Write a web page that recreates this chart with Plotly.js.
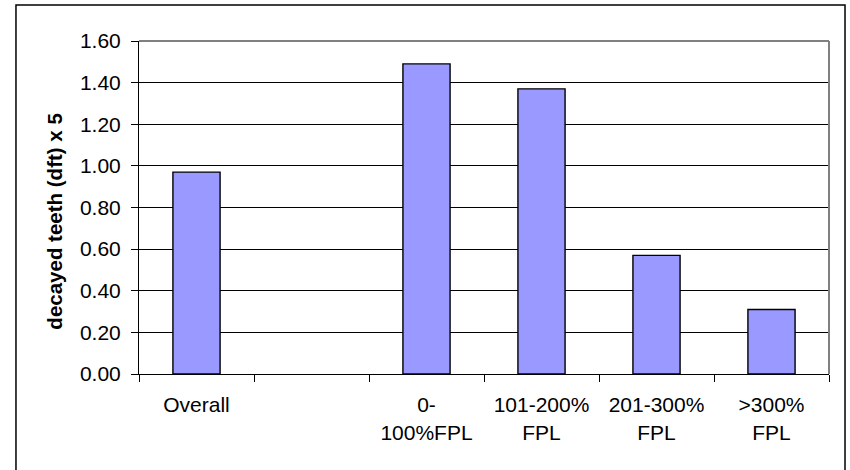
<!DOCTYPE html>
<html>
<head>
<meta charset="utf-8">
<script src="https://cdn.plot.ly/plotly-3.0.1.min.js"></script>
<style>html,body{margin:0;padding:0;background:#fff;}</style>
</head>
<body>
<div id="chart" style="width:850px;height:470px;"></div>
<script>
// Data
const categories = ["Overall", " ", "0-<br>100%FPL", "101-200%<br>FPL", "201-300%<br>FPL", ">300%<br>FPL"];
const values = [0.97, null, 1.49, 1.37, 0.57, 0.31];
const yTitle = "decayed teeth (dft) x 5";

const FONT = "Liberation Sans, Arial, sans-serif";

const trace = {
  type: "bar",
  x: categories,
  y: values,
  marker: { color: "#9999FF", line: { color: "#000000", width: 1.4 } },
  hoverinfo: "skip"
};

const layout = {
  width: 850,
  height: 470,
  margin: { l: 139, r: 21, t: 41, b: 96, autoexpand: false },
  paper_bgcolor: "#ffffff",
  plot_bgcolor: "#ffffff",
  showlegend: false,
  bargap: 0.59,
  font: { family: FONT, size: 21, color: "#000000" },
  xaxis: {
    type: "category",
    range: [-0.5, 5.5],
    tickson: "boundaries",
    ticks: "outside",
    ticklen: 7,
    tickcolor: "#000000",
    tickwidth: 1,
    ticklabelstandoff: 12,
    showgrid: false,
    showline: true,
    linecolor: "#000000",
    linewidth: 1,
    tickfont: { family: FONT, size: 21, color: "#000000" },
    automargin: false,
    fixedrange: true
  },
  yaxis: {
    range: [0, 1.6],
    dtick: 0.2,
    tick0: 0,
    tickformat: ".2f",
    ticks: "outside",
    ticklen: 7,
    tickcolor: "#000000",
    ticklabelstandoff: 6,
    showgrid: true,
    gridcolor: "#000000",
    gridwidth: 1,
    zeroline: false,
    showline: true,
    linecolor: "#000000",
    linewidth: 1,
    tickfont: { family: FONT, size: 21, color: "#000000" },
    automargin: false,
    fixedrange: true
  },
  annotations: [
    { text: "<b>" + yTitle + "</b>", xref: "paper", yref: "paper", x: -0.122, y: 0.457,
      xanchor: "center", yanchor: "middle", textangle: -90, showarrow: false,
      font: { family: FONT, size: 20.5, color: "#000000" } }
  ],
  shapes: [
    // plot-area top and right border (grey)
    { type: "line", xref: "paper", yref: "paper", x0: 0, x1: 1, y0: 1, y1: 1, line: { color: "#808080", width: 2 }, layer: "above" },
    { type: "line", xref: "paper", yref: "paper", x0: 1, x1: 1, y0: 0, y1: 1, line: { color: "#808080", width: 2 }, layer: "above" },
    // outer chart frame
    { type: "rect", xref: "paper", yref: "paper", x0: -0.1783, x1: 1.0232, y0: -0.35, y1: 1.108, line: { color: "#000000", width: 1.5 }, layer: "above" }
  ]
};

Plotly.newPlot("chart", [trace], layout, { staticPlot: true, displayModeBar: false });
</script>
</body>
</html>
